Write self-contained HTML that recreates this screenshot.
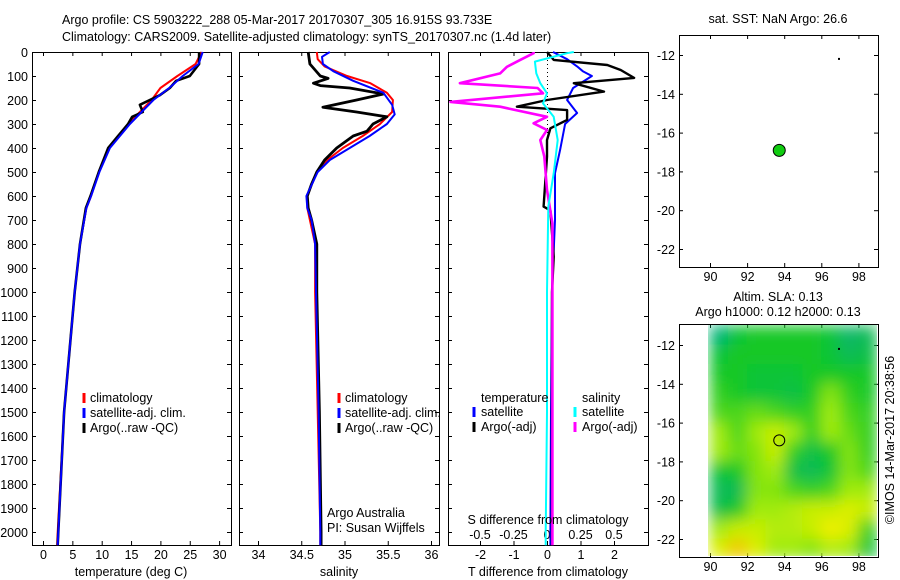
<!DOCTYPE html>
<html><head><meta charset="utf-8"><style>
body{margin:0;background:#fff;}
svg{display:block;font-family:"Liberation Sans",sans-serif;font-size:12.5px;}
</style></head><body>
<svg id="s" width="900" height="580" viewBox="0 0 900 580">
<defs>
<filter id="blur" x="-10%" y="-10%" width="120%" height="120%"><feGaussianBlur stdDeviation="7.5" edgeMode="duplicate"/></filter>
<clipPath id="hmclip"><rect x="708" y="325" width="169" height="231"/></clipPath>
</defs>
<text x="62" y="24">Argo profile: CS 5903222_288 05-Mar-2017 20170307_305 16.915S 93.733E</text>
<text x="62" y="41">Climatology: CARS2009. Satellite-adjusted climatology: synTS_20170307.nc (1.4d later)</text>
<g id="g"></g>
</svg>
<script>
// ---- data ----
var depthTicks=[0,100,200,300,400,500,600,700,800,900,1000,1100,1200,1300,1400,1500,1600,1700,1800,1900,2000];
var tempTicks=[0,5,10,15,20,25,30];
var salTicks=[34,34.5,35,35.5,36];
var tdiffTicks=[-2,-1,0,1,2];
var sdiffTicks=[-0.5,-0.25,0,0.25,0.5];
var sdiffLabels=["-0.5","-0.25","0","0.25","0.5"];
var lonTicks=[90,92,94,96,98];
var latTicks=[-12,-14,-16,-18,-20,-22];

var tDepth=[0,50,100,120,150,180,200,220,250,270,300,350,400,500,600,650,800,1000,1500,2000,2055];
var tArgo=[26.6,26.6,25,22.7,21.6,19.9,18.2,16.5,17,15.2,14.5,12.8,11.1,9.5,8.1,7.3,6.3,5.4,3.6,2.6,2.5];
var cDepth=[0,50,100,150,200,250,300,350,400,500,600,650,800,1000,1500,2000,2055];
var tClim=[27,26,22.9,20,18.5,16.5,14.5,12.9,11.2,9.5,8.2,7.4,6.3,5.4,3.6,2.5,2.4];
var tSat=[27.2,26.5,23.8,21.5,18.8,16.8,14.8,13.1,11.4,9.6,8.2,7.4,6.3,5.4,3.6,2.6,2.5];

var sArgoDepth=[0,50,100,110,130,140,150,175,200,230,250,270,300,330,350,400,450,500,550,600,650,700,800,1000,1500,2000,2055];
var sArgo=[34.58,34.6,34.72,34.81,34.64,34.72,35.06,35.45,35.14,34.75,35.14,35.49,35.33,35.26,35.1,34.91,34.77,34.68,34.62,34.57,34.58,34.62,34.68,34.68,34.71,34.73,34.73];
var sClimDepth=[0,30,60,100,130,170,200,250,300,350,400,450,500,600,650,700,800,1000,1500,2000,2055];
var sClim=[34.68,34.69,34.77,35.03,35.3,35.49,35.56,35.55,35.41,35.21,34.98,34.8,34.68,34.57,34.57,34.6,34.66,34.66,34.69,34.72,34.72];
var sSatDepth=[0,20,50,80,120,170,220,260,300,350,400,450,500,600,650,700,800,1000,1500,2000,2055];
var sSat=[34.83,34.74,34.75,34.87,35.1,35.45,35.55,35.58,35.49,35.29,35.06,34.83,34.69,34.56,34.57,34.62,34.66,34.67,34.7,34.72,34.72];

var dTSatDepth=[0,30,60,80,100,150,200,254,300,408,505,700,1000,1500,2000,2055];
var dTSat=[0.18,0.6,0.9,1.07,1.34,0.78,0.6,0.9,0.54,0.39,0.24,0.24,0.15,0.12,0.1,0.1];
var dTArgoDepth=[0,33,54,75,108,130,165,200,228,242,283,318,367,436,644,660,853,1000,1500,2000,2055];
var dTArgo=[0,0.2,1.8,2.2,2.6,0.8,1.7,0,-0.9,0.6,0.6,0.1,0,0,-0.1,0.1,0.2,0.15,0.15,0.15,0.15];
var dSArgoDepth=[0,5,33,62,89,130,150,172,208,228,270,297,325,367,436,575,714,1000,1500,2000,2055];
var dSArgo=[-0.1,-0.1,-0.2,-0.3,-0.35,-0.65,-0.07,-0.03,-0.72,-0.35,0,-0.1,0,-0.05,-0.02,0,0.04,0.04,0.04,0.04,0.04];
var dSSatDepth=[0,5,40,89,130,172,214,270,367,505,644,1000,1500,2000,2055];
var dSSat=[0.2,0.15,-0.09,-0.08,-0.05,0,-0.03,0.05,0.08,0.05,0.01,0,0,-0.01,-0.01];

var argoLon=93.733, argoLat=-16.915;
var hmLons=[90.5,91.5,92.5,93.5,94.5,95.5,96.5,97.5,98.5];
var hmLats=[-11.5,-12.5,-13.5,-14.5,-15.5,-16.5,-17.5,-18.5,-19.5,-20.5,-21.5,-22.5];
var hmVals=[
[0.1,0.3,0.35,0.35,0.35,0.35,0.3,0.15,0.2],
[0.3,0.35,0.35,0.35,0.35,0.35,0.3,0.2,0.25],
[0.35,0.35,0.3,0.3,0.3,0.35,0.35,0.35,0.35],
[0.4,0.35,0.3,0.3,0.25,0.35,0.55,0.4,0.35],
[0.45,0.45,0.5,0.45,0.4,0.4,0.6,0.45,0.4],
[0.6,0.45,0.6,0.7,0.6,0.4,0.6,0.5,0.4],
[0.6,0.5,0.55,0.7,0.4,0.25,0.35,0.55,0.4],
[0.3,0.35,0.55,0.6,0.25,0.2,0.3,0.55,0.45],
[0.2,0.2,0.55,0.55,0.45,0.4,0.45,0.6,0.6],
[0.25,0.35,0.6,0.6,0.65,0.7,0.7,0.75,0.7],
[0.6,0.7,0.7,0.65,0.65,0.7,0.8,0.75,0.4],
[0.75,0.9,0.75,0.6,0.6,0.55,0.65,0.6,0.3]];

// ---- helpers ----
var NS="http://www.w3.org/2000/svg", G=document.getElementById('g');
function mk(t,a,p){var e=document.createElementNS(NS,t);for(var k in a)e.setAttribute(k,a[k]);(p||G).appendChild(e);return e;}
function yD(d){return 52+d*0.24;}
function xT(v){return 43+v*5.87;}
function xS(v){return 258+(v-34)*86.5;}
function xDT(v){return 547+v*33.5;}
function xDS(v){return 547+v*134;}
function path(xs,ds,fx,col,w,name,dash){
  var s='';for(var i=0;i<xs.length;i++)s+=(i?'L':'M')+fx(xs[i]).toFixed(1)+','+yD(ds[i]).toFixed(1);
  var p=mk('path',{d:s,fill:'none',stroke:col,'stroke-width':w,'stroke-linejoin':'round'});
  if(dash)p.setAttribute('stroke-dasharray',dash);
  
  
}
function txt(x,y,s,anchor,name){var t=mk('text',{x:x,y:y,'text-anchor':anchor||'start'});t.textContent=s;
  return t;}
function frame(x0,x1,y0,y1,name){var r=mk('rect',{x:x0+.5,y:y0+.5,width:x1-x0,height:y1-y0,fill:'none',stroke:'#000','stroke-width':1});
  }
function depthTickMarks(x0,x1,labels){
  depthTicks.forEach(function(d){var y=yD(d)+.5;
    mk('line',{x1:x0,x2:x0+4,y1:y,y2:y,stroke:'#000'});mk('line',{x1:x1-4,x2:x1,y1:y,y2:y,stroke:'#000'});
    if(labels)txt(x0-4,y+4.5,String(d),'end','depth-tick-label');});
}
function xTicks(vals,fx,y0,y1,labels,ly,name){
  vals.forEach(function(v,i){var x=fx(v)+.5;
    mk('line',{x1:x,x2:x,y1:y1,y2:y1-4,stroke:'#000'});mk('line',{x1:x,x2:x,y1:y0,y2:y0+4,stroke:'#000'});
    if(labels)txt(x,ly,labels[i],'middle',name);});
}
function legendMark(x,y,col,name){var l=mk('line',{x1:x,x2:x,y1:y-9,y2:y+1,stroke:col,'stroke-width':3});
  }

// ---- panel 1: temperature ----
frame(32,231,52,545,'temperature-axes');
depthTickMarks(32,231,true);
xTicks(tempTicks,xT,52,545,tempTicks.map(String),559,'temperature-tick-label');
path(tClim,cDepth,xT,'#f00',2,'temp-climatology-line');
path(tArgo,tDepth,xT,'#000',2.6,'temp-argo-line');
path(tSat,cDepth,xT,'#00f',2,'temp-satellite-line');
txt(131,576,'temperature (deg C)','middle','temperature-axis-title');
[['#f00','climatology'],['#00f','satellite-adj. clim.'],['#000','Argo(..raw -QC)']].forEach(function(e,i){
  legendMark(84,402+i*15,e[0],'legend-mark');txt(90,402+i*15,e[1],'start','legend-entry');});

// ---- panel 2: salinity ----
frame(239,439,52,545,'salinity-axes');
depthTickMarks(239,439,false);
xTicks(salTicks,xS,52,545,salTicks.map(String),559,'salinity-tick-label');
path(sClim,sClimDepth,xS,'#f00',2,'sal-climatology-line');
path(sArgo,sArgoDepth,xS,'#000',2.8,'sal-argo-line');
path(sSat,sSatDepth,xS,'#00f',2,'sal-satellite-line');
txt(339,576,'salinity','middle','salinity-axis-title');
[['#f00','climatology'],['#00f','satellite-adj. clim.'],['#000','Argo(..raw -QC)']].forEach(function(e,i){
  legendMark(339,402+i*15,e[0],'legend-mark');txt(345,402+i*15,e[1],'start','legend-entry');});
txt(327,517,'Argo Australia','start','operator-label');
txt(327,532,'PI: Susan Wijffels','start','pi-label');

// ---- panel 3: differences ----
frame(448,648,52,545,'difference-axes');
depthTickMarks(448,648,false);
xTicks(tdiffTicks,xDT,52,545,tdiffTicks.map(String),559,'tdiff-tick-label');
sdiffTicks.forEach(function(v,i){txt(xDS(v),539,sdiffLabels[i],'middle','sdiff-tick-label');});
var zl=mk('line',{x1:547.5,x2:547.5,y1:52,y2:135,stroke:'#000','stroke-dasharray':'1,3'});

path(dTSat,dTSatDepth,xDT,'#00f',2,'tdiff-satellite-line');
path(dTArgo,dTArgoDepth,xDT,'#000',2.4,'tdiff-argo-line');
path(dSArgo,dSArgoDepth,xDS,'#f0f',2.6,'sdiff-argo-line');
path(dSSat,dSSatDepth,xDS,'#0ff',2,'sdiff-satellite-line');
txt(548,524,'S difference from climatology','middle','sdiff-axis-title');
txt(548,576,'T difference from climatology','middle','tdiff-axis-title');
txt(481,402,'temperature','start','legend-header');txt(582,402,'salinity','start','legend-header');
legendMark(474,416,'#00f','legend-mark');txt(481,416,'satellite','start','legend-entry');
legendMark(474,431,'#000','legend-mark');txt(481,431,'Argo(-adj)','start','legend-entry');
legendMark(575,416,'#0ff','legend-mark');txt(582,416,'satellite','start','legend-entry');
legendMark(575,431,'#f0f','legend-mark');txt(582,431,'Argo(-adj)','start','legend-entry');

// ---- maps ----
function mapAxes(top,bottom,lat12y,name){
  function mx(l){return 710+(l-90)*18.55;}
  function my(l){return lat12y+(-12-l)*19.4;}
  frame(679,878,top,bottom,name);
  lonTicks.forEach(function(v){var x=mx(v)+.5;mk('line',{x1:x,x2:x,y1:top,y2:top+4,stroke:'#000'});
    mk('line',{x1:x,x2:x,y1:bottom,y2:bottom-4,stroke:'#000'});txt(x,bottom+14,String(v),'middle','lon-tick-label');});
  latTicks.forEach(function(v){var y=my(v)+.5;mk('line',{x1:679,x2:683,y1:y,y2:y,stroke:'#000'});
    mk('line',{x1:878,x2:874,y1:y,y2:y,stroke:'#000'});txt(675,y+4.5,String(v),'end','lat-tick-label');});
  return {mx:mx,my:my};
}
var m1=mapAxes(35,267,55,'sst-map-axes');
txt(778,23,'sat. SST: NaN Argo: 26.6','middle','sst-map-title');
var d1=mk('circle',{cx:m1.mx(argoLon),cy:m1.my(argoLat),r:6,fill:'#1c1',stroke:'#000','stroke-width':1});

mk('rect',{x:m1.mx(96.9),y:m1.my(-12.15),width:2,height:2,fill:'#000'});

var m2=mapAxes(324,557,345,'sla-map-axes');
txt(778,301,'Altim. SLA: 0.13','middle','sla-map-title');
txt(778,316,'Argo h1000: 0.12 h2000: 0.13','middle','sla-map-subtitle');
function cmap(v){var st=[[0,[0,170,150]],[0.35,[20,200,40]],[0.6,[160,235,10]],[0.8,[240,240,0]],[1,[240,160,0]]];
  for(var i=1;i<st.length;i++){if(v<=st[i][0]){var a=st[i-1],b=st[i],t=(v-a[0])/(b[0]-a[0]);
    return 'rgb('+a[1].map(function(c,k){return Math.round(c+(b[1][k]-c)*t);}).join(',')+')';}}return 'rgb(240,160,0)';}
var hc=mk('g',{'clip-path':'url(#hmclip)'});var hg=mk('g',{filter:'url(#blur)'},hc);
hmLats.forEach(function(la,r){hmLons.forEach(function(lo,c){
  var x0=m2.mx(lo-0.5),y0=m2.my(la+0.5);
  var cell=mk('rect',{x:x0-0.3,y:y0-0.3,width:m2.mx(lo+0.5)-x0+0.6,height:m2.my(la-0.5)-y0+0.6,fill:cmap(hmVals[r][c])},hg);
  
  
});});
var c2=mk('circle',{cx:m2.mx(argoLon),cy:m2.my(argoLat),r:5.5,fill:'none',stroke:'#000','stroke-width':1});

mk('rect',{x:m2.mx(96.9),y:m2.my(-12.15),width:2,height:2,fill:'#000'});
var cr=txt(0,0,'©IMOS 14-Mar-2017 20:38:56','middle','imos-credit');
cr.setAttribute('transform','translate(894,440) rotate(-90)');
</script>
</body></html>
